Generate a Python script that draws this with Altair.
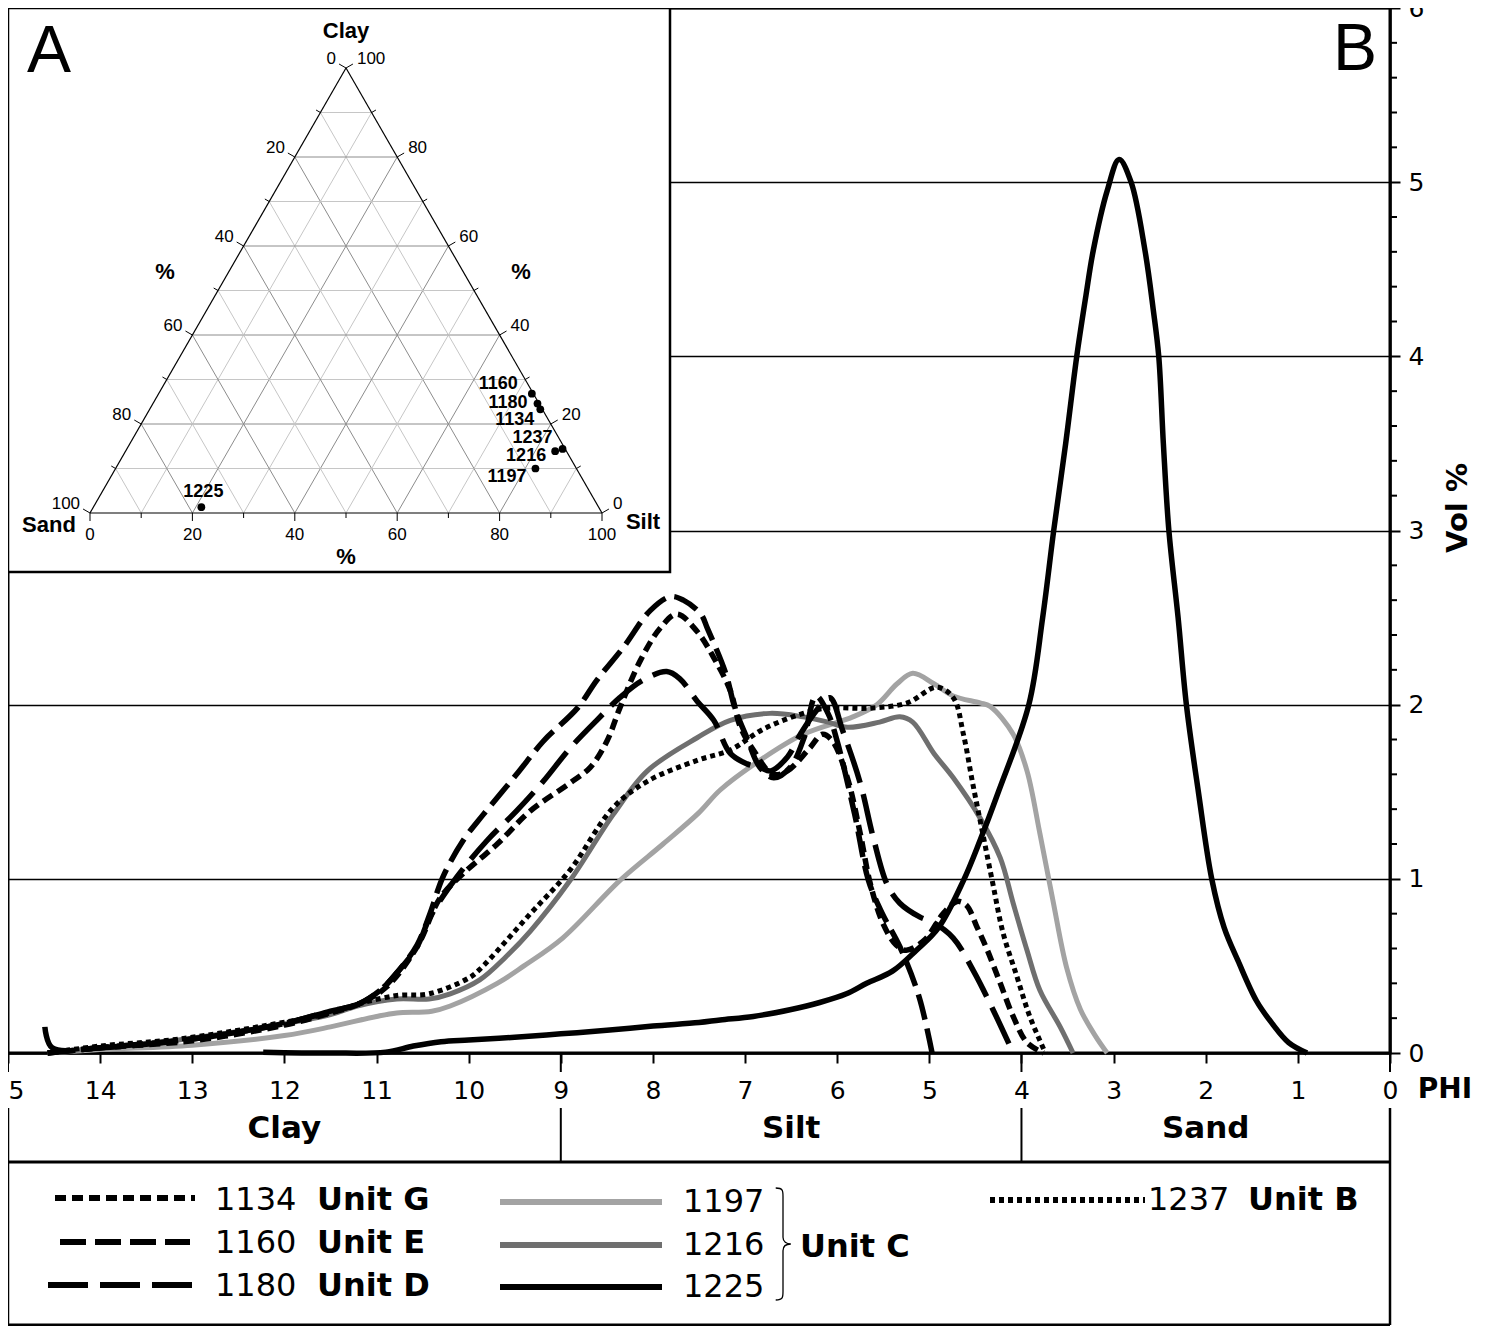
import altair as alt
import pandas as pd

# ---------------- Panel B : grain-size distribution curves (PHI -> Vol %) ----------------
phi_1134 = [14.57, 14.0, 13.0, 12.0, 11.5, 11.2, 10.89, 10.56, 10.31, 10.06, 9.69, 9.33,
            8.90, 8.68, 8.50, 8.36, 8.14, 7.92, 7.74, 7.52, 7.34, 7.16, 7.05, 6.91,
            6.70, 6.54, 6.30, 6.16, 6.05, 5.89, 5.75, 5.64, 5.50, 5.36, 5.25, 5.05,
            4.85, 4.70, 4.60, 4.48, 4.37, 4.23, 4.09, 3.94, 3.76]
vol_1134 = [0.00, 0.03, 0.07, 0.16, 0.23, 0.28, 0.38, 0.61, 0.89, 1.03, 1.20, 1.39,
            1.55, 1.64, 1.79, 1.98, 2.25, 2.44, 2.52, 2.42, 2.27, 2.08, 1.87, 1.74,
            1.60, 1.62, 1.75, 1.83, 1.79, 1.58, 1.26, 0.97, 0.74, 0.62, 0.59, 0.65,
            0.80, 0.87, 0.85, 0.72, 0.59, 0.40, 0.21, 0.06, 0.00]

phi_1160 = [14.57, 14.0, 13.0, 12.0, 11.5, 11.2, 10.96, 10.78, 10.56, 10.42, 10.28, 10.06,
            9.84, 9.48, 9.19, 8.82, 8.61, 8.32, 8.03, 7.81, 7.67, 7.48, 7.41, 7.21,
            7.11, 6.98, 6.84, 6.69, 6.51, 6.36, 6.23, 6.10, 6.00, 5.81, 5.66, 5.51,
            5.32, 5.11, 4.97]
vol_1160 = [0.00, 0.03, 0.08, 0.17, 0.24, 0.28, 0.36, 0.46, 0.62, 0.80, 1.01, 1.22,
            1.37, 1.60, 1.79, 1.98, 2.14, 2.33, 2.54, 2.62, 2.60, 2.52, 2.44, 2.18,
            1.98, 1.81, 1.64, 1.58, 1.64, 1.81, 2.05, 1.95, 1.79, 1.37, 0.99, 0.80,
            0.61, 0.32, 0.00]

phi_1180 = [14.60, 14.52, 14.0, 13.0, 12.0, 11.5, 11.2, 10.96, 10.78, 10.56, 10.42, 10.13,
            9.80, 9.48, 9.19, 8.90, 8.61, 8.36, 8.11, 7.85, 7.71, 7.52, 7.34, 7.16,
            6.98, 6.84, 6.72, 6.54, 6.40, 6.22, 6.08, 5.94, 5.75, 5.61, 5.46, 5.32,
            5.10, 4.96, 4.74, 4.52, 4.31, 4.09]
vol_1180 = [0.15, 0.03, 0.03, 0.08, 0.17, 0.24, 0.28, 0.36, 0.46, 0.61, 0.78, 1.01,
            1.22, 1.39, 1.56, 1.75, 1.91, 2.04, 2.14, 2.19, 2.15, 2.02, 1.91, 1.72,
            1.66, 1.64, 1.62, 1.70, 1.83, 1.97, 2.04, 1.85, 1.55, 1.24, 0.97, 0.86,
            0.78, 0.75, 0.66, 0.47, 0.25, 0.00]

phi_1197 = [14.57, 14.0, 13.0, 12.0, 11.5, 11.0, 10.78, 10.4, 10.2, 9.69, 9.4, 8.98,
            8.36, 7.89, 7.5, 7.27, 6.84, 6.37, 5.83, 5.57, 5.35, 5.18, 4.95, 4.74,
            4.45, 4.34, 4.09, 3.94, 3.80, 3.66, 3.51, 3.36, 3.20, 3.07]
vol_1197 = [0.0, 0.02, 0.045, 0.10, 0.15, 0.21, 0.23, 0.24, 0.27, 0.40, 0.50, 0.66,
            0.99, 1.20, 1.38, 1.51, 1.68, 1.83, 1.93, 2.00, 2.12, 2.18, 2.12, 2.05,
            2.01, 1.99, 1.83, 1.62, 1.26, 0.88, 0.49, 0.25, 0.10, 0.0]

phi_1216 = [14.57, 14.0, 13.15, 12.18, 11.5, 11.21, 10.78, 10.43, 10.2, 9.88, 9.6, 9.33,
            8.90, 8.43, 8.06, 7.52, 7.16, 6.73, 6.37, 6.10, 5.89, 5.54, 5.32, 5.18,
            4.95, 4.74, 4.45, 4.23, 4.09, 3.94, 3.80, 3.58, 3.44]
vol_1216 = [0.0, 0.03, 0.075, 0.15, 0.22, 0.27, 0.31, 0.31, 0.34, 0.42, 0.55, 0.70,
            0.99, 1.37, 1.62, 1.81, 1.91, 1.95, 1.93, 1.90, 1.87, 1.90, 1.93, 1.90,
            1.72, 1.58, 1.35, 1.12, 0.86, 0.59, 0.36, 0.15, 0.0]

phi_1225 = [12.23, 11.5, 10.9, 10.6, 10.3, 10.0, 9.5, 9.0, 8.5, 8.0,
            7.5, 7.27, 6.91, 6.5, 6.19, 5.9, 5.68, 5.4, 5.14, 4.9,
            4.63, 4.45, 4.25, 3.92, 3.77, 3.65, 3.52, 3.40, 3.30, 3.22,
            3.07, 2.94, 2.81, 2.66, 2.57, 2.51, 2.46, 2.40, 2.30, 2.21,
            2.08, 1.935, 1.80, 1.65, 1.45, 1.28, 1.10, 0.90]
vol_1225 = [0.005, 0.0, 0.005, 0.04, 0.065, 0.075, 0.09, 0.11, 0.13, 0.155,
            0.175, 0.19, 0.21, 0.25, 0.29, 0.34, 0.40, 0.47, 0.59, 0.72,
            0.99, 1.22, 1.50, 2.00, 2.50, 3.00, 3.50, 4.00, 4.35, 4.61,
            4.95, 5.13, 5.00, 4.61, 4.27, 4.00, 3.50, 3.00, 2.50, 2.00,
            1.50, 1.00, 0.72, 0.53, 0.30, 0.17, 0.06, 0.0]

phi_1237 = [14.57, 14.0, 13.15, 12.18, 11.5, 11.21, 10.78, 10.43, 10.0, 9.88, 9.33, 8.90,
            8.43, 8.06, 7.52, 7.16, 6.80, 6.37, 6.11, 5.64, 5.24, 4.92, 4.74, 4.63,
            4.53, 4.42, 4.31, 4.20, 4.05, 3.91, 3.74]
vol_1237 = [0.0, 0.04, 0.08, 0.16, 0.23, 0.28, 0.33, 0.34, 0.43, 0.48, 0.80, 1.05,
            1.41, 1.56, 1.68, 1.74, 1.86, 1.95, 1.98, 1.98, 2.01, 2.10, 2.04, 1.83,
            1.55, 1.26, 0.97, 0.69, 0.44, 0.21, 0.0]

# ---------------- Panel A : ternary compositions (%) ----------------
tern_ids = ["1160", "1180", "1134", "1237", "1216", "1197", "1225"]
tern_sand = [0.3, 0.3, 0.4, 0.5, 2.2, 8.0, 77.6]
tern_silt = [72.9, 75.1, 76.3, 85.1, 83.9, 82.0, 21.1]
tern_clay = [26.8, 24.6, 23.3, 14.4, 13.9, 10.0, 1.3]

# ---------------- tick labels / categories ----------------
phi_ticks = list(range(0, 16))
vol_ticks = list(range(0, 7))
class_names = ["Clay", "Silt", "Sand"]
class_edges = [15, 9, 4, 0]
tern_tick_vals = list(range(0, 101, 10))
legend_ids = ["1134", "1160", "1180", "1197", "1216", "1225", "1237"]
legend_units = ["Unit G", "Unit E", "Unit D", "", "", "", "Unit B"]

# ---------------- styles / layout ----------------
W, H = 1382, 1045
FONT = "DejaVu Sans"
TFONT = "Liberation Sans"
STYLE = {
    "1197": dict(color="#a3a3a3", width=5.0, dash=None),
    "1216": dict(color="#6f6f6f", width=5.0, dash=None),
    "1237": dict(color="#000000", width=5.0, dash=[5, 4]),
    "1134": dict(color="#000000", width=5.5, dash=[11, 6]),
    "1160": dict(color="#000000", width=5.5, dash=[26, 9]),
    "1180": dict(color="#000000", width=5.5, dash=[40, 12]),
    "1225": dict(color="#000000", width=5.5, dash=None),
}
CURVES = {
    "1134": (phi_1134, vol_1134), "1160": (phi_1160, vol_1160), "1180": (phi_1180, vol_1180),
    "1197": (phi_1197, vol_1197), "1216": (phi_1216, vol_1216), "1225": (phi_1225, vol_1225),
    "1237": (phi_1237, vol_1237),
}
DRAW_ORDER = ["1197", "1216", "1237", "1134", "1160", "1180", "1225"]

phi_scale = alt.Scale(domain=[15, 0], range=[0, W], nice=False, zero=False)
vol_scale = alt.Scale(domain=[0, 6], range=[H, 0], nice=False, zero=False)
x_axis = alt.Axis(values=phi_ticks, format="d", title=None, grid=False,
                  domain=True, domainColor="black", domainWidth=2.5,
                  ticks=True, tickColor="black", tickWidth=2, tickSize=10,
                  labelFont=FONT, labelFontSize=25, labelColor="black",
                  labelPadding=15, labelFlush=False, labelOverlap=False)
y_axis = alt.Axis(orient="right", values=vol_ticks, format="d", title=None,
                  grid=True, gridColor="black", gridWidth=1.6, gridOpacity=1,
                  domain=True, domainColor="black", domainWidth=2.5,
                  ticks=True, tickColor="black", tickWidth=2, tickSize=10,
                  labelFont=FONT, labelFontSize=25, labelColor="black",
                  labelPadding=8, labelOverlap=False, labelFlush=False)
X = alt.X("phi:Q", scale=phi_scale, axis=x_axis)
Y = alt.Y("vol:Q", scale=vol_scale, axis=y_axis)

one = pd.DataFrame({"k": [0]})

# ---------------- main group ----------------
main_layers = []
for sid in DRAW_ORDER:
    ph, vo = CURVES[sid]
    st = STYLE[sid]
    kw = dict(color=st["color"], strokeWidth=st["width"], interpolate="catmull-rom",
              strokeCap="butt", strokeJoin="round")
    if st["dash"]:
        kw["strokeDash"] = st["dash"]
    main_layers.append(
        alt.Chart(pd.DataFrame({"phi": ph, "vol": vo})).mark_line(**kw).encode(
            x=X, y=Y, order=alt.Order("phi:Q", sort="descending"))
    )

minor_df = pd.DataFrame({"vol": [i / 5 for i in range(31) if i % 5]})
main_layers.append(alt.Chart(minor_df).mark_rule(color="black", strokeWidth=2).encode(
    y=Y, x=alt.value(W), x2=alt.value(W + 7)))

edges_df = pd.DataFrame({"phi": class_edges})
main_layers.append(alt.Chart(edges_df).mark_rule(color="black", strokeWidth=2).encode(
    x=X, y=alt.value(H), y2=alt.value(H + 19)))
inner_df = pd.DataFrame({"phi": class_edges[1:-1]})
main_layers.append(alt.Chart(inner_df).mark_rule(color="black", strokeWidth=2).encode(
    x=X, y=alt.value(1100), y2=alt.value(1154)))
outer_df = pd.DataFrame({"phi": [class_edges[0], class_edges[-1]]})
main_layers.append(alt.Chart(outer_df).mark_rule(color="black", strokeWidth=2.5).encode(
    x=X, y=alt.value(1100), y2=alt.value(1317)))
for yy in (1154, 1317):
    main_layers.append(alt.Chart(one).mark_rule(color="black", strokeWidth=3).encode(
        x=alt.value(0), x2=alt.value(W), y=alt.value(yy)))
centers = [(class_edges[i] + class_edges[i + 1]) / 2 for i in range(3)]
band_df = pd.DataFrame({"phi": centers, "name": class_names})
main_layers.append(alt.Chart(band_df).mark_text(font=FONT, fontSize=31, fontWeight="bold",
                                                 color="black", baseline="middle").encode(
    x=X, y=alt.value(1121), text="name:N"))
main = alt.layer(*main_layers)

# ---------------- ternary inset group ----------------
TX0, TX1, TY0, TY1 = 82, 594, 505, 60
SX, SY = (TX1 - TX0) / 100.0, (TY0 - TY1) / 100.0
tx_scale = alt.Scale(domain=[0, 100], range=[TX0, TX1], nice=False, zero=False)
ty_scale = alt.Scale(domain=[0, 100], range=[TY0, TY1], nice=False, zero=False)
TXe = lambda f: alt.X(f, scale=tx_scale, axis=None)
TYe = lambda f: alt.Y(f, scale=ty_scale, axis=None)


def cart(sand, silt, clay):
    return silt + clay / 2.0, clay


def off(p, dx, dy):
    return p[0] + dx / SX, p[1] - dy / SY


def seg(a, b, c="black"):
    return dict(x0=a[0], y0=a[1], x1=b[0], y1=b[1], c=c)


grid_rows = []
for v in range(10, 100, 10):
    col = "#8c8c8c" if v % 20 == 0 else "#c6c6c6"
    grid_rows.append(seg(cart(100 - v, 0, v), cart(0, 100 - v, v), col))
    grid_rows.append(seg(cart(v, 0, 100 - v), cart(v, 100 - v, 0), col))
    grid_rows.append(seg(cart(0, v, 100 - v), cart(100 - v, v, 0), col))
edge_rows = [seg(cart(100, 0, 0), cart(0, 100, 0)), seg(cart(100, 0, 0), cart(0, 0, 100)),
             seg(cart(0, 100, 0), cart(0, 0, 100))]
tick_rows, lab_l, lab_r, lab_b = [], [], [], []
for v in tern_tick_vals:
    L = 8 if v % 20 == 0 else 5
    pl = cart(v, 0, 100 - v)
    pr = cart(0, 100 - v, v)
    pb = cart(100 - v, v, 0)
    el = off(pl, -0.866 * L, -0.5 * L)
    er = off(pr, 0.866 * L, -0.5 * L)
    eb = off(pb, 0, L)
    tick_rows += [seg(pl, el), seg(pr, er), seg(pb, eb)]
    if v % 20 == 0:
        a = off(el, -3, -5); lab_l.append(dict(x=a[0], y=a[1], t=str(v)))
        a = off(er, 4, -5); lab_r.append(dict(x=a[0], y=a[1], t=str(v)))
        a = off(eb, 0, 14); lab_b.append(dict(x=a[0], y=a[1], t=str(v)))

titles = []
for txt, p, dx, dy in [("Clay", cart(0, 0, 100), 0, -37), ("Sand", cart(100, 0, 0), -41, 12),
                       ("Silt", cart(0, 100, 0), 41, 9), ("%", cart(50, 0, 50), -53, -19),
                       ("%", cart(0, 50, 50), 47, -19), ("%", cart(50, 50, 0), 0, 44)]:
    a = off(p, dx, dy)
    titles.append(dict(x=a[0], y=a[1], t=txt))

LABEL_OFF = {"1160": (-14, -10), "1180": (-10, -1), "1134": (-6, 11), "1237": (-10, -11),
             "1216": (-9, 5), "1197": (-9, 8), "1225": (2, -15)}
pts, labs_r, labs_c = [], [], []
for sid, s, si, c in zip(tern_ids, tern_sand, tern_silt, tern_clay):
    p = cart(s, si, c)
    pts.append(dict(x=p[0], y=p[1], id=sid))
    dx, dy = LABEL_OFF[sid]
    a = off(p, dx, dy)
    (labs_c if sid == "1225" else labs_r).append(dict(x=a[0], y=a[1], t=sid))


def rules(rows, width):
    return alt.Chart(pd.DataFrame(rows)).mark_rule(strokeWidth=width).encode(
        x=TXe("x0:Q"), y=TYe("y0:Q"), x2="x1:Q", y2="y1:Q",
        color=alt.Color("c:N", scale=None))


def texts(rows, **kw):
    return alt.Chart(pd.DataFrame(rows)).mark_text(color="black", baseline="middle", **kw).encode(
        x=TXe("x:Q"), y=TYe("y:Q"), text="t:N")


inset = alt.layer(
    alt.Chart(one).mark_rect(fill="white", stroke="black", strokeWidth=2.5).encode(
        x=alt.value(0), x2=alt.value(662), y=alt.value(0), y2=alt.value(564)),
    rules(grid_rows, 1),
    rules(edge_rows, 1.2),
    rules(tick_rows, 1),
    texts(lab_l, font=TFONT, fontSize=17, align="right"),
    texts(lab_r, font=TFONT, fontSize=17, align="left"),
    texts(lab_b, font=TFONT, fontSize=17, align="center"),
    texts(titles, font=TFONT, fontSize=22, fontWeight="bold", align="center"),
    alt.Chart(pd.DataFrame(pts)).mark_circle(color="black", size=60, opacity=1).encode(
        x=TXe("x:Q"), y=TYe("y:Q")),
    texts(labs_r, font=TFONT, fontSize=18, fontWeight="bold", align="right"),
    texts(labs_c, font=TFONT, fontSize=18, fontWeight="bold", align="center"),
)

# ---------------- decorations & legend ----------------
deco = []
deco.append(alt.Chart(one).mark_text(font=TFONT, fontSize=66, color="black", align="left",
                                     baseline="alphabetic").encode(
    x=alt.value(19), y=alt.value(64), text=alt.value("A")))
deco.append(alt.Chart(one).mark_text(font=TFONT, fontSize=66, color="black", align="right",
                                     baseline="alphabetic").encode(
    x=alt.value(1369), y=alt.value(62), text=alt.value("B")))
deco.append(alt.Chart(one).mark_text(font=FONT, fontSize=29, fontWeight="bold", color="black",
                                     angle=270, align="center", baseline="middle").encode(
    x=alt.value(1450), y=alt.value(500), text=alt.value("Vol %")))
deco.append(alt.Chart(one).mark_text(font=FONT, fontSize=28, fontWeight="bold", color="black",
                                     align="center", baseline="middle").encode(
    x=alt.value(1437), y=alt.value(1082), text=alt.value("PHI")))

LEG = {
    "1134": dict(x0=47, x1=187, y=1190, ty=1192, tx=207, ux=309),
    "1160": dict(x0=52, x1=182, y=1234, ty=1235, tx=207, ux=309),
    "1180": dict(x0=40, x1=192, y=1277, ty=1278, tx=207, ux=309),
    "1197": dict(x0=492, x1=654, y=1194, ty=1194, tx=675, ux=0),
    "1216": dict(x0=492, x1=654, y=1237, ty=1237, tx=675, ux=0),
    "1225": dict(x0=492, x1=654, y=1279, ty=1279, tx=675, ux=0),
    "1237": dict(x0=982, x1=1137, y=1192, ty=1192, tx=1140, ux=1240),
}
num_rows, unit_rows = [], []
for sid, unit in zip(legend_ids, legend_units):
    lg = LEG[sid]
    st = STYLE[sid]
    kw = dict(color=st["color"], strokeWidth=6, strokeCap="butt")
    if st["dash"]:
        kw["strokeDash"] = st["dash"]
    deco.append(alt.Chart(one).mark_rule(**kw).encode(
        x=alt.value(lg["x0"]), x2=alt.value(lg["x1"]), y=alt.value(lg["y"])))
    num_rows.append(dict(px=lg["tx"], py=lg["ty"], t=sid))
    if unit:
        unit_rows.append(dict(px=lg["ux"], py=lg["ty"], t=unit))
unit_rows.append(dict(px=792, py=1239, t="Unit C"))

deco.append(alt.Chart(pd.DataFrame(num_rows)).mark_text(
    font=FONT, fontSize=32, color="black", align="left", baseline="middle").encode(
    x=alt.X("px:Q", scale=None), y=alt.Y("py:Q", scale=None), text="t:N"))
deco.append(alt.Chart(pd.DataFrame(unit_rows)).mark_text(
    font=FONT, fontSize=32, fontWeight="bold", color="black", align="left", baseline="middle").encode(
    x=alt.X("px:Q", scale=None), y=alt.Y("py:Q", scale=None), text="t:N"))

BRACE = ("M-0.13,-1 C0,-1 0,-0.95 0,-0.85 L0,-0.12 C0,-0.04 0.06,0 0.14,0 "
         "C0.06,0 0,0.04 0,0.12 L0,0.85 C0,0.95 0,1 -0.13,1")
deco.append(alt.Chart(pd.DataFrame({"px": [775], "py": [1236]})).mark_point(
    shape=BRACE, size=112 * 112, filled=False, color="black", strokeWidth=1.3, opacity=1).encode(
    x=alt.X("px:Q", scale=None), y=alt.Y("py:Q", scale=None)))

chart = alt.layer(main, inset, alt.layer(*deco)).resolve_scale(
    x="independent", y="independent"
).properties(
    width=W, height=H,
    padding={"left": 0, "top": 0, "right": 92, "bottom": 276},
    autosize=alt.AutoSizeParams(type="none"),
    background="white",
).configure_view(stroke="black", strokeWidth=3)

chart.save("out.html", embed_options={"renderer": "svg", "actions": False})
